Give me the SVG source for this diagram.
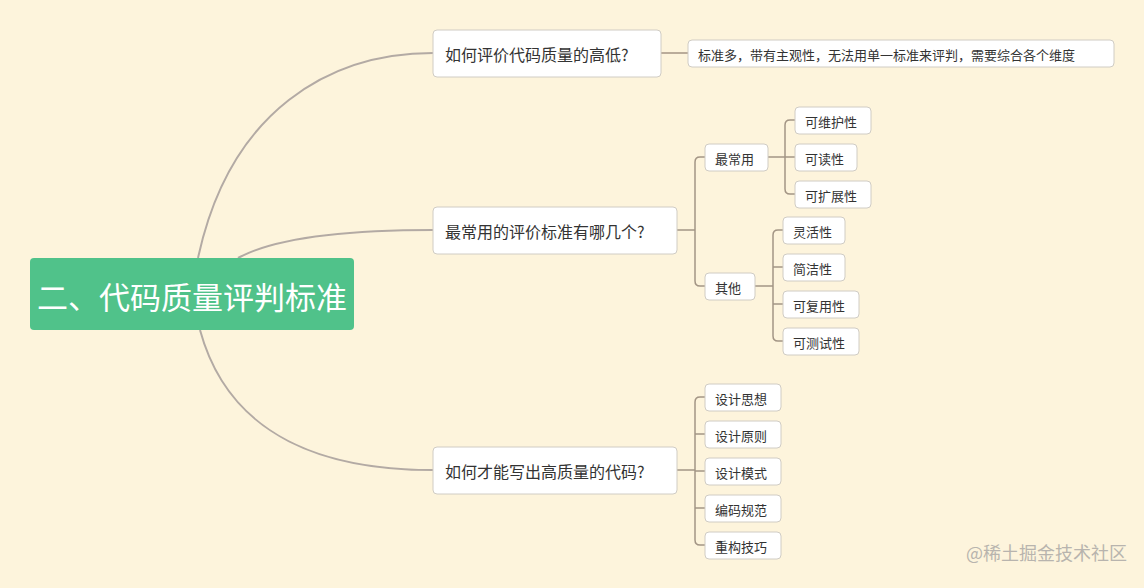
<svg xmlns="http://www.w3.org/2000/svg" width="1144" height="588" viewBox="0 0 1144 588">
<style>
.n rect{fill:#fff;stroke:#d0ccc4;stroke-width:1}
.n text{font-family:"Noto Sans CJK SC","Liberation Sans",sans-serif;fill:#333;font-size:13px;dominant-baseline:central}
.l1 text{font-size:16px}
.c path{fill:none;stroke:#a39585;stroke-width:1.5}
.c path.m{stroke:#b3aaa4;stroke-width:2}
</style>
<rect width="1144" height="588" fill="#fdf4dc"/>
<g class="c">
<path class="m" d="M198 258 C230 110 330 53 433 53"/>
<path class="m" d="M238 258 C280 235 360 230 433 230"/>
<path class="m" d="M200 330 C230 440 330 470 433 470"/>
<path d="M661 53 H688"/>
<path d="M677 230 H695 M705 157 H700 Q695 157 695 162 V281 Q695 286 700 286 H705"/>
<path d="M768 157 H785 M795 120 H790 Q785 120 785 125 V189 Q785 194 790 194 H795 M785 157 H795"/>
<path d="M755 286 H773 M783 230 H778 Q773 230 773 235 V336 Q773 341 778 341 H783 M773 267 H783 M773 304 H783"/>
<path d="M677 470 H695 M705 397 H700 Q695 397 695 402 V540 Q695 545 700 545 H705 M695 434 H705 M695 471 H705 M695 508 H705"/>
</g>
<g id="root"><rect x="30" y="258" width="324" height="72" rx="4" fill="#50c28a"/><text x="192" y="295" text-anchor="middle" dominant-baseline="central" font-family="Noto Sans CJK SC,Liberation Sans,sans-serif" font-size="31" fill="#fff">二、代码质量评判标准</text></g>
<g id="q1" class="n l1"><rect x="433" y="30" width="228" height="47" rx="4"/><text x="445" y="54">如何评价代码质量的高低?</text></g>
<g id="q2" class="n l1"><rect x="433" y="207" width="244" height="47" rx="4"/><text x="445" y="231">最常用的评价标准有哪几个?</text></g>
<g id="q3" class="n l1"><rect x="433" y="447" width="244" height="47" rx="4"/><text x="445" y="471">如何才能写出高质量的代码?</text></g>
<g id="a1" class="n"><rect x="688" y="40" width="426" height="27" rx="4"/><text x="698" y="54">标准多，带有主观性，无法用单一标准来评判，需要综合各个维度</text></g>
<g id="common" class="n"><rect x="705" y="144" width="63" height="27" rx="4"/><text x="715" y="158">最常用</text></g>
<g id="other" class="n"><rect x="705" y="273" width="50" height="27" rx="4"/><text x="715" y="287">其他</text></g>
<g id="c1" class="n"><rect x="795" y="107" width="76" height="27" rx="4"/><text x="805" y="121">可维护性</text></g>
<g id="c2" class="n"><rect x="795" y="144" width="62" height="27" rx="4"/><text x="805" y="158">可读性</text></g>
<g id="c3" class="n"><rect x="795" y="181" width="76" height="27" rx="4"/><text x="805" y="195">可扩展性</text></g>
<g id="o1" class="n"><rect x="783" y="217" width="62" height="27" rx="4"/><text x="793" y="231">灵活性</text></g>
<g id="o2" class="n"><rect x="783" y="254" width="62" height="27" rx="4"/><text x="793" y="268">简洁性</text></g>
<g id="o3" class="n"><rect x="783" y="291" width="76" height="27" rx="4"/><text x="793" y="305">可复用性</text></g>
<g id="o4" class="n"><rect x="783" y="328" width="76" height="27" rx="4"/><text x="793" y="342">可测试性</text></g>
<g id="d1" class="n"><rect x="705" y="384" width="76" height="27" rx="4"/><text x="715" y="398">设计思想</text></g>
<g id="d2" class="n"><rect x="705" y="421" width="76" height="27" rx="4"/><text x="715" y="435">设计原则</text></g>
<g id="d3" class="n"><rect x="705" y="458" width="76" height="27" rx="4"/><text x="715" y="472">设计模式</text></g>
<g id="d4" class="n"><rect x="705" y="495" width="76" height="27" rx="4"/><text x="715" y="509">编码规范</text></g>
<g id="d5" class="n"><rect x="705" y="532" width="76" height="27" rx="4"/><text x="715" y="546">重构技巧</text></g>
<text x="1127" y="560" text-anchor="end" font-family="Noto Sans CJK SC,Liberation Sans,sans-serif" font-size="18" fill="#b8b4ae">@稀土掘金技术社区</text>
</svg>
